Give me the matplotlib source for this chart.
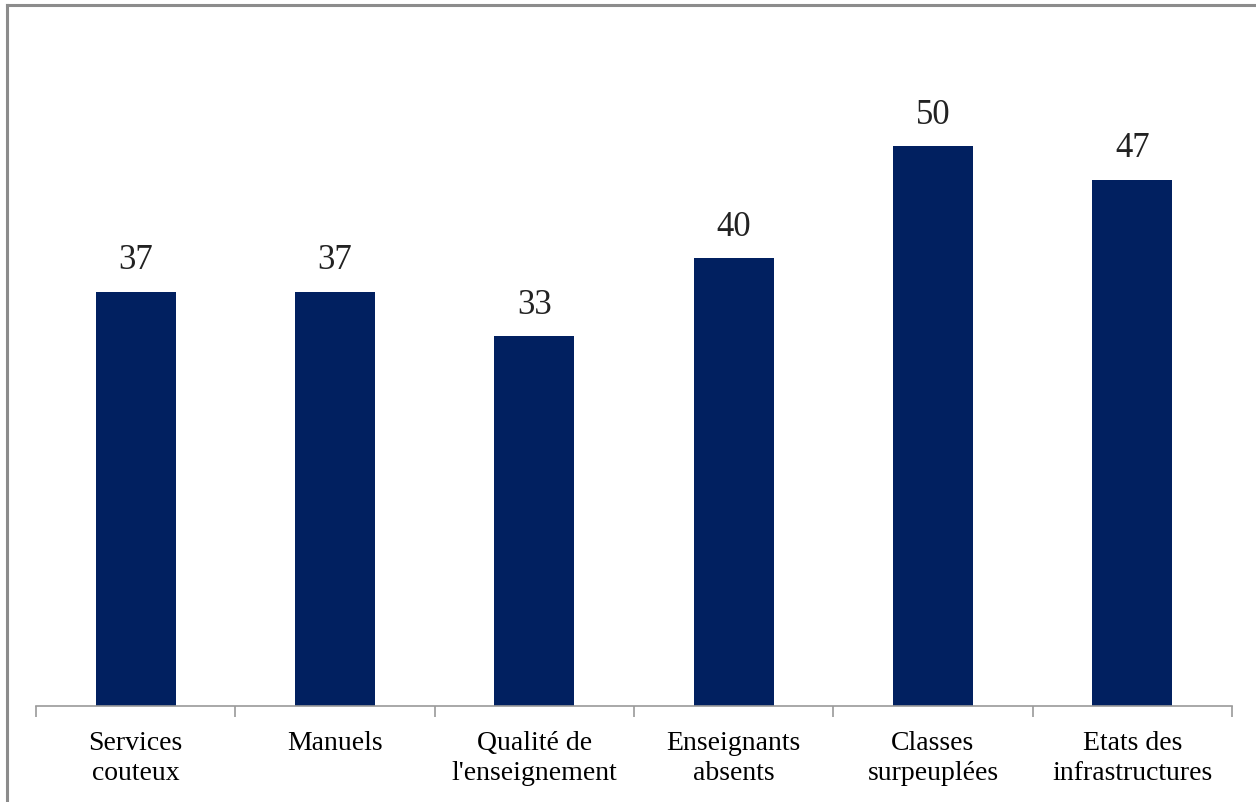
import numpy as np
import matplotlib.pyplot as plt
from matplotlib.lines import Line2D

categories = ["Services\ncouteux", "Manuels", "Qualité de\nl'enseignement",
              "Enseignants\nabsents", "Classes\nsurpeuplées", "Etats des\ninfrastructures"]
values = [37, 37, 33, 40, 50, 47]

plt.rcParams['font.family'] = ['Liberation Serif', 'DejaVu Serif']

W, H = 1256, 803
fig = plt.figure(figsize=(W / 100, H / 100), dpi=100)
ax = fig.add_axes([36 / W, (H - 707) / H, (1232 - 36) / W, (707 - 7) / H])

x = np.arange(len(categories))
bars = ax.bar(x, values, width=0.4, color='#012060', zorder=2)

for xi, v in zip(x, values):
    ax.annotate(str(v), (xi, v), xytext=(0, 11), textcoords='offset points',
                ha='center', va='bottom', fontsize=25, color='#222222')

ax.set_xlim(-0.5, len(categories) - 0.5)
ax.set_ylim(0, 62.5)
ax.set_yticks([])
for s in ['top', 'right', 'left']:
    ax.spines[s].set_visible(False)
ax.spines['bottom'].set_color('#9a9a9a')
ax.spines['bottom'].set_linewidth(1.2)

ax.set_xticks(x)
ax.set_xticklabels(categories, fontsize=20, linespacing=1.3)
ax.tick_params(axis='x', which='major', length=0, pad=17)
ax.set_xticks(np.arange(-0.5, len(categories), 1.0), minor=True)
ax.tick_params(axis='x', which='minor', length=8, color='#9a9a9a', width=1.2)

# outer frame (left and top edges only visible)
fig.add_artist(Line2D([7 / W, 7 / W], [0, 1 - 6 / H], color='#8c8c8c', lw=2.2))
fig.add_artist(Line2D([7 / W, 1], [1 - 6 / H, 1 - 6 / H], color='#8c8c8c', lw=2.2))

fig.savefig('out.png', dpi=100)
